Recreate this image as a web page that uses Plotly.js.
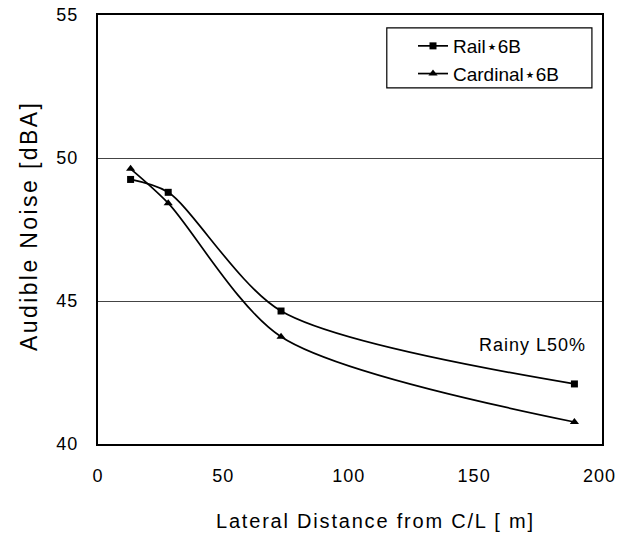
<!DOCTYPE html>
<html><head><meta charset="utf-8">
<script src="https://cdn.plot.ly/plotly-3.0.1.min.js"></script>
<style>
body{margin:0;background:#fff}#c{width:632px;height:538px}
#c .xtick text,#c .ytick text{letter-spacing:1px}
#c .annotation-text{letter-spacing:1px}
</style>
</head><body><div id="c"></div>
<script>
const distance = [13, 28, 73, 190];
const railNoise = [49.25, 48.8, 44.65, 42.1];
const cardinalNoise = [49.62, 48.42, 43.75, 40.77];
const seriesNames = ["Rail\u22c66B", "Cardinal\u22c66B"];
const xTicks = [0, 50, 100, 150, 200];
const yTicks = [40, 45, 50, 55];
const xTitle = 'Lateral Distance from C/L [ m]';
const yTitle = 'Audible Noise [dBA]';
const noteText = 'Rainy L50%';

const font = 'Liberation Sans, Arial, Helvetica, sans-serif';
const traces = [
  {x: distance, y: railNoise, name: seriesNames[0], mode: 'lines+markers',
   line: {color: '#000', width: 1.7, shape: 'spline', smoothing: 0.8},
   marker: {symbol: 'square', size: 7, color: '#000'}},
  {x: distance, y: cardinalNoise, name: seriesNames[1], mode: 'lines+markers',
   line: {color: '#000', width: 1.7, shape: 'spline', smoothing: 0.8},
   marker: {symbol: 'triangle-up', size: 8, color: '#000'}}
];
const layout = {
  width: 632, height: 538,
  margin: {l: 98, r: 30, t: 15, b: 94},
  paper_bgcolor: '#fff', plot_bgcolor: '#fff',
  font: {family: font, color: '#000', size: 18},
  showlegend: true,
  legend: {x: 0.625, y: 0.972, xanchor: 'left', yanchor: 'top',
    borderwidth: 0, bgcolor: 'rgba(0,0,0,0)',
    font: {size: 19, family: font}},
  shapes: [{type: 'rect', xref: 'paper', yref: 'paper', x0: 0.573, x1: 0.98, y0: 0.83, y1: 0.97,
    line: {color: '#000', width: 1.2}, fillcolor: 'rgba(0,0,0,0)'}],
  xaxis: {range: [0, 201], tickvals: xTicks, ticks: '', showgrid: false,
    zeroline: false, showline: true, mirror: true, linecolor: '#000', linewidth: 2,
    ticklabelstandoff: 14, tickfont: {size: 18}},
  yaxis: {range: [40, 55], tickvals: yTicks, ticks: '', showgrid: true,
    gridcolor: '#444', gridwidth: 1, zeroline: false, showline: true, mirror: true,
    linecolor: '#000', linewidth: 2, ticklabelstandoff: 14, tickfont: {size: 18}},
  annotations: [
    {x: 0.962, y: 43.45, xref: 'paper', yref: 'y', xanchor: 'right',
     text: noteText, showarrow: false, font: {size: 18, family: font}},
    {x: 0.55, y: -0.18, xref: 'paper', yref: 'paper', xanchor: 'center', yanchor: 'middle',
     text: xTitle, showarrow: false, font: {size: 20, family: font}},
    {x: -0.137, y: 0.51, xref: 'paper', yref: 'paper', xanchor: 'center', yanchor: 'middle',
     text: yTitle, textangle: -90, showarrow: false, font: {size: 23, family: font}}
  ]
};
Plotly.newPlot('c', traces, layout, {displayModeBar: false, staticPlot: true}).then(function(){
  var ann = document.querySelectorAll('#c .annotation');
  ann[1].querySelector('text').style.letterSpacing = '1.8px';
  ann[2].querySelector('text').style.letterSpacing = '2.4px';
});
</script></body></html>
